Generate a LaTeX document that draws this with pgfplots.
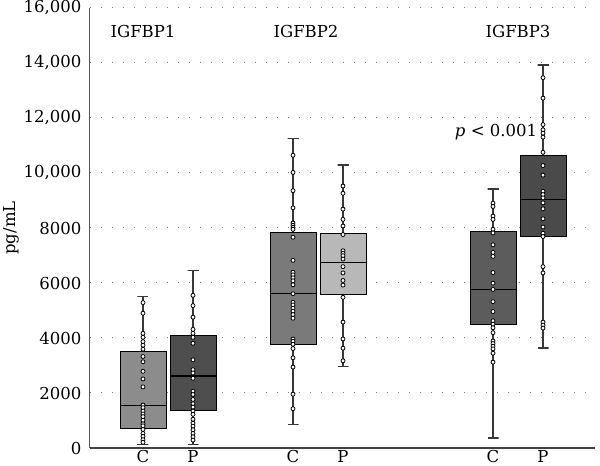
\documentclass[border=0pt]{standalone}
\usepackage{fontspec}
\setmainfont{DejaVu Serif}
\usepackage{pgfplots}
\pgfplotsset{compat=1.18}
\definecolor{cA}{HTML}{8C8C8C}
\definecolor{cB}{HTML}{4E4E4E}
\definecolor{cC}{HTML}{7A7A7A}
\definecolor{cD}{HTML}{B8B8B8}
\definecolor{cE}{HTML}{5C5C5C}
\definecolor{cF}{HTML}{4A4A4A}
\definecolor{wk}{HTML}{383838}
\newcommand\fs{\fontsize{16.5}{19}\selectfont}
\begin{document}
\begin{tikzpicture}
\path[use as bounding box] (-90pt,-18pt) rectangle (510pt,448pt);
\begin{axis}[
  at={(0pt,0pt)}, anchor=south west, scale only axis,
  width=505pt, height=440pt,
  xmin=-1.06, xmax=9.04, ymin=0, ymax=16000,
  axis x line=bottom, axis y line=left,
  axis line style={-},
  x axis line style={draw=black!75, line width=2pt},
  y axis line style={draw=black!65, line width=1pt},
  xtick={0,1,3,4,7,8}, xticklabels={C,P,C,P,C,P},
  ytick={0,2000,4000,6000,8000,10000,12000,14000,16000},
  yticklabels={0,2000,4000,6000,8000,{10,000},{12,000},{14,000},{16,000}},
  major tick length=0pt,
  ymajorgrids,
  grid style={draw=gray, line width=1pt, dash pattern=on 1.2pt off 9.8pt},
  clip=false,
  ticklabel style={font=\fs},
  yticklabel style={xshift=-5pt},
  xticklabel style={inner sep=0pt, anchor=north, yshift=-2pt},
  wh/.style={draw=wk, line width=1.6pt},
  bxs/.style={draw=black, line width=0.8pt},
  md/.style={draw=black, line width=1.1pt},
  pts/.style={only marks, mark=*, mark size=2pt, mark options={fill=white, draw=black, line width=0.8pt}},
]
% whiskers (min to max, with caps)
\addplot[wh] coordinates {(-0.11,120)(0.11,120)(0,120)(0,5510)(-0.11,5510)(0.11,5510)};
\addplot[wh] coordinates {(0.89,120)(1.11,120)(1,120)(1,6450)(0.89,6450)(1.11,6450)};
\addplot[wh] coordinates {(2.89,853)(3.11,853)(3,853)(3,11255)(2.89,11255)(3.11,11255)};
\addplot[wh] coordinates {(3.89,2967)(4.11,2967)(4,2967)(4,10283)(3.89,10283)(4.11,10283)};
\addplot[wh] coordinates {(6.89,360)(7.11,360)(7,360)(7,9419)(6.89,9419)(7.11,9419)};
\addplot[wh] coordinates {(7.89,3628)(8.11,3628)(8,3628)(8,13935)(7.89,13935)(8.11,13935)};
% boxes (lower quartile to upper quartile)
\addplot[bxs, fill=cA] coordinates {(-0.46,720)(0.46,720)(0.46,3500)(-0.46,3500)} -- cycle;
\addplot[bxs, fill=cB] coordinates {(0.54,1370)(1.46,1370)(1.46,4109)(0.54,4109)} -- cycle;
\addplot[bxs, fill=cC] coordinates {(2.54,3784)(3.46,3784)(3.46,7857)(2.54,7857)} -- cycle;
\addplot[bxs, fill=cD] coordinates {(3.54,5598)(4.46,5598)(4.46,7797)(3.54,7797)} -- cycle;
\addplot[bxs, fill=cE] coordinates {(6.54,4481)(7.46,4481)(7.46,7881)(6.54,7881)} -- cycle;
\addplot[bxs, fill=cF] coordinates {(7.54,7688)(8.46,7688)(8.46,10655)(7.54,10655)} -- cycle;
% medians
\addplot[md] coordinates {(-0.46,1540)(0.46,1540)};
\addplot[md] coordinates {(0.54,2619)(1.46,2619)};
\addplot[md] coordinates {(2.54,5634)(3.46,5634)};
\addplot[md] coordinates {(3.54,6740)(4.46,6740)};
\addplot[md] coordinates {(6.54,5755)(7.46,5755)};
\addplot[md] coordinates {(7.54,9034)(8.46,9034)};
% individual points
\addplot[pts] coordinates {(0,5287)(0,4901)(0,4169)(0,4025)(0,3868)(0,3736)(0,3592)(0,3328)(0,3135)(0,2787)(0,2511)(0,2222)(0,1562)(0,1465)(0,1345)(0,1237)(0,1141)(0,1009)(0,877)(0,805)(0,673)(0,529)(0,420)(0,300)(0,204)};
\addplot[pts] coordinates {(1,5550)(1,5178)(1,4757)(1,4313)(1,4169)(1,4025)(1,3808)(1,3208)(1,2847)(1,2727)(1,2535)(1,2066)(1,1946)(1,1766)(1,1610)(1,1489)(1,1345)(1,1225)(1,1045)(1,901)(1,793)(1,661)(1,529)(1,408)(1,288)};
\addplot[pts] coordinates {(3,10644)(3,10019)(3,9358)(3,8734)(3,8181)(3,8097)(3,8025)(3,7953)(3,7665)(3,6824)(3,6391)(3,6295)(3,6187)(3,6079)(3,5935)(3,5610)(3,5298)(3,5202)(3,5082)(3,4974)(3,4853)(3,4721)(3,3964)(3,3880)(3,3772)(3,3616)(3,3280)(3,2943)(3,1958)(3,1429)};
\addplot[pts] coordinates {(4,9526)(4,9262)(4,8686)(4,8313)(4,8073)(4,7761)(4,7172)(4,7076)(4,6992)(4,6872)(4,6595)(4,6367)(4,6091)(4,5923)(4,5478)(4,4577)(4,3964)(4,3628)(4,3172)};
\addplot[pts] coordinates {(7,8902)(7,8782)(7,8433)(7,8313)(7,7953)(7,7821)(7,7388)(7,7112)(7,6968)(7,6379)(7,5995)(7,5766)(7,5322)(7,4961)(7,4625)(7,4505)(7,4373)(7,4193)(7,3892)(7,3796)(7,3700)(7,3604)(7,3448)(7,3123)};
\addplot[pts] coordinates {(8,13467)(8,12722)(8,11761)(8,11569)(8,11449)(8,11305)(8,10752)(8,10271)(8,9923)(8,9334)(8,9214)(8,9094)(8,8914)(8,8698)(8,8337)(8,8037)(8,7809)(8,7688)(8,6595)(8,6367)(8,4577)(8,4469)(8,4361)};
% labels
\node[font=\fs] at (axis cs:0,15144) {IGFBP1};
\node[font=\fs] at (axis cs:3.26,15144) {IGFBP2};
\node[font=\fs] at (axis cs:7.5,15144) {IGFBP3};
\node[font=\fs, anchor=base] at (axis cs:7.06,11317) {\textit{p} < 0.001};
\end{axis}
\node[rotate=90, font=\fs] at (-79pt,220pt) {pg/mL};
\end{tikzpicture}
\end{document}
